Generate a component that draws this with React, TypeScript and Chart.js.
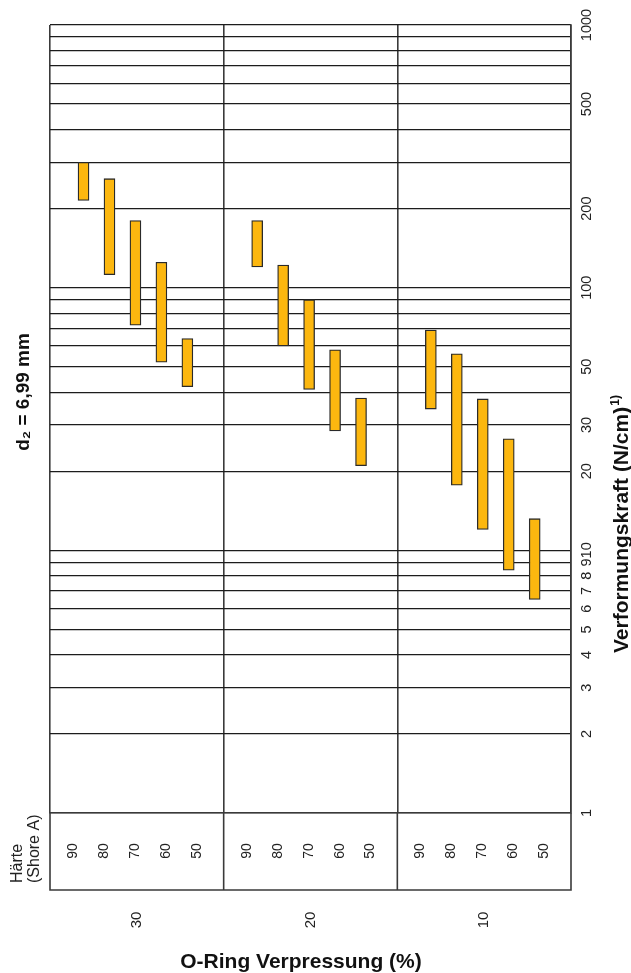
import React, { useEffect, useRef } from "react";
import { Chart, registerables } from "chart.js";

Chart.register(...registerables);

// ---------- data ----------
const compressionGroups = ["30", "20", "10"];
const hardnessLabels = ["90", "80", "70", "60", "50"];
// force ranges (N/cm) per compression group, in hardness order 90..50
const forceLow30 = [215, 112, 72, 52, 42];
const forceHigh30 = [300, 260, 180, 125, 64];
const forceLow20 = [120, 60, 41, 28.5, 21];
const forceHigh20 = [180, 122, 90, 58, 38];
const forceLow10 = [34.5, 17.7, 12, 8.4, 6.5];
const forceHigh10 = [69, 56, 37.7, 26.6, 13.2];
const forceGridTicks = [
  1, 2, 3, 4, 5, 6, 7, 8, 9, 10, 20, 30, 40, 50, 60, 70, 80, 90, 100, 200, 300,
  400, 500, 600, 700, 800, 900, 1000,
];
const forceTickLabels = [1, 2, 3, 4, 5, 6, 7, 8, 9, 10, 20, 30, 50, 100, 200, 500, 1000];
const chartTitle = "d₂ = 6,99 mm";
const xTitle = "O-Ring Verpressung (%)";
const yTitle = "Verformungskraft (N/cm)";
const yTitleNote = "1)";
const hardnessHeader = ["Härte", "(Shore A)"];

// ---------- layout / style ----------
const FONT = '"Liberation Sans", Arial, Helvetica, sans-serif';
const BAR_START = 0.193;
const BAR_STEP = 0.1495;
const LABEL_START = 0.134;
const LABEL_STEP = 0.178;
const TABLE_BOTTOM = 890;
const BAR_FILL = "#FCB70F";
const LINE = "#1c1c1c";
const FRAME = "#3a3a3a";

const lows = [forceLow30, forceLow20, forceLow10];
const highs = [forceHigh30, forceHigh20, forceHigh10];

function drawRotated(
  ctx: CanvasRenderingContext2D,
  text: string,
  x: number,
  y: number,
  align: CanvasTextAlign,
  baseline: CanvasTextBaseline
) {
  ctx.save();
  ctx.translate(x, y);
  ctx.rotate(-Math.PI / 2);
  ctx.textAlign = align;
  ctx.textBaseline = baseline;
  ctx.fillText(text, 0, 0);
  ctx.restore();
}

const tablePlugin = {
  id: "tableAndTitles",
  afterDraw(chart: any) {
    const { ctx, chartArea, scales } = chart;
    const xs = scales.x;
    ctx.save();
    // table lines below the plot
    ctx.strokeStyle = FRAME;
    ctx.lineWidth = 1.6;
    ctx.beginPath();
    for (let g = 0; g <= compressionGroups.length; g++) {
      const px = xs.getPixelForValue(g);
      ctx.moveTo(px, chartArea.bottom);
      ctx.lineTo(px, TABLE_BOTTOM);
    }
    ctx.moveTo(chartArea.left - 0.8, TABLE_BOTTOM);
    ctx.lineTo(chartArea.right + 0.8, TABLE_BOTTOM);
    ctx.stroke();

    ctx.fillStyle = "#222";
    // hardness labels
    ctx.font = `14px ${FONT}`;
    compressionGroups.forEach((_, g) => {
      hardnessLabels.forEach((h, k) => {
        const px = xs.getPixelForValue(g + LABEL_START + k * LABEL_STEP);
        drawRotated(ctx, h, px, 851, "center", "middle");
      });
    });
    // compression group labels
    ctx.font = `15px ${FONT}`;
    compressionGroups.forEach((c, g) => {
      drawRotated(ctx, c, xs.getPixelForValue(g + 0.5), 920, "center", "middle");
    });
    // Härte header
    ctx.font = `16px ${FONT}`;
    drawRotated(ctx, hardnessHeader[0], 22, 883, "left", "alphabetic");
    drawRotated(ctx, hardnessHeader[1], 39, 883, "left", "alphabetic");

    // x title
    ctx.font = `bold 21px ${FONT}`;
    ctx.fillStyle = "#111";
    ctx.textAlign = "center";
    ctx.textBaseline = "alphabetic";
    ctx.fillText(xTitle, 301, 968);

    // y title with footnote mark
    ctx.save();
    ctx.translate(628, 653);
    ctx.rotate(-Math.PI / 2);
    ctx.font = `bold 21px ${FONT}`;
    ctx.textAlign = "left";
    ctx.textBaseline = "alphabetic";
    ctx.fillText(yTitle, 0, 0);
    const w = ctx.measureText(yTitle).width;
    ctx.font = `bold 12px ${FONT}`;
    ctx.fillText(yTitleNote, w + 1, -9);
    ctx.restore();

    // chart title
    ctx.font = `bold 19px ${FONT}`;
    drawRotated(ctx, chartTitle, 29, 392, "center", "alphabetic");
    ctx.restore();
  },
};

export default function App() {
  const canvasRef = useRef<HTMLCanvasElement | null>(null);

  useEffect(() => {
    if (!canvasRef.current) return;
    const points: { x: number; y: [number, number] }[] = [];
    compressionGroups.forEach((_, g) => {
      hardnessLabels.forEach((_h, k) => {
        points.push({
          x: g + BAR_START + k * BAR_STEP,
          y: [lows[g][k], highs[g][k]],
        });
      });
    });

    const chart = new Chart(canvasRef.current, {
      type: "bar",
      data: {
        datasets: [
          {
            label: "Verformungskraft",
            data: points as any,
            backgroundColor: BAR_FILL,
            borderColor: "#2a2a2a",
            borderWidth: 1.3,
            borderSkipped: false,
            barThickness: 11,
            grouped: false,
          } as any,
        ],
      },
      options: {
        responsive: true,
        maintainAspectRatio: false,
        animation: false,
        layout: { padding: { left: 50, top: 25, right: 20, bottom: 160 } },
        plugins: {
          legend: { display: false },
          tooltip: { enabled: false },
          title: { display: false },
        },
        scales: {
          x: {
            type: "linear",
            min: 0,
            max: compressionGroups.length,
            offset: false,
            afterBuildTicks: (s: any) => {
              s.ticks = [0, 1, 2, 3].map((v) => ({ value: v }));
            },
            ticks: { display: false },
            grid: { color: FRAME, lineWidth: 1.6, drawTicks: false, offset: false },
            border: { display: true, color: FRAME, width: 1.6 },
          },
          y: {
            type: "logarithmic",
            position: "right",
            min: 1,
            max: 1000,
            afterBuildTicks: (s: any) => {
              s.ticks = forceGridTicks.map((v) => ({ value: v }));
            },
            afterFit: (s: any) => {
              s.width = 40;
            },
            grid: { color: LINE, lineWidth: 1.2, drawTicks: false },
            border: { display: true, color: FRAME, width: 1.6 },
            ticks: {
              autoSkip: false,
              minRotation: 90,
              maxRotation: 90,
              crossAlign: "center",
              padding: 0,
              color: "#222",
              font: { family: FONT, size: 14.5 },
              callback: (v: any) =>
                forceTickLabels.includes(Number(v)) ? String(v) : "",
            },
          },
        },
      } as any,
      plugins: [tablePlugin],
    });
    return () => chart.destroy();
  }, []);

  return (
    <div
      style={{
        position: "absolute",
        left: 0,
        top: 0,
        width: 631,
        height: 973,
        background: "#fff",
      }}
    >
      <canvas ref={canvasRef} style={{ display: "block" }} />
    </div>
  );
}
